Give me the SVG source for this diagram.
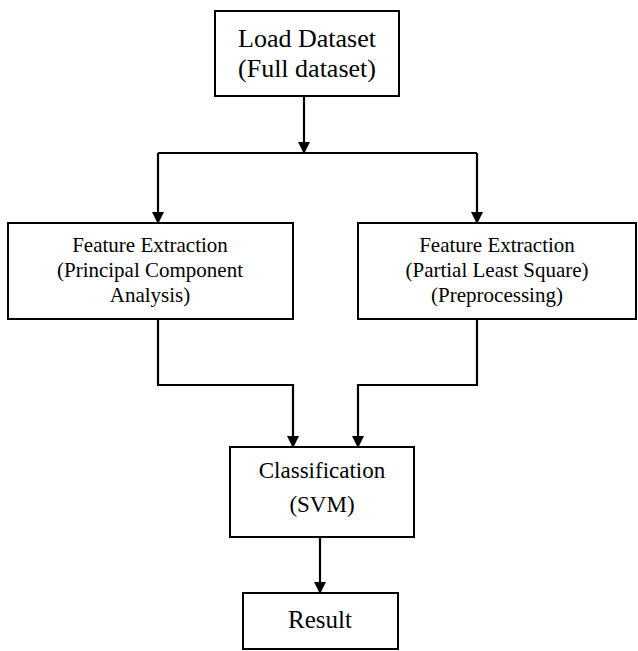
<svg xmlns="http://www.w3.org/2000/svg" width="638" height="651" viewBox="0 0 638 651">
<style>
.box{fill:#fff;stroke:#000;stroke-width:2}
.t{font-family:"Liberation Serif","Times New Roman",serif;fill:#000;text-anchor:middle}
.c{fill:none;stroke:#000;stroke-width:2.2}
</style>
<defs>
<marker id="ah" markerWidth="10" markerHeight="12" refX="10" refY="6" orient="auto" markerUnits="userSpaceOnUse">
<path d="M0,0 L12,6 L0,12 Z" fill="#000"/>
</marker>
</defs>
<rect width="638" height="651" fill="#fff"/>
<g id="connectors">
<path class="c" d="M304,96 V152" marker-end="url(#ah)"/>
<path class="c" d="M158,153 H477"/>
<path class="c" d="M158,153 V222" marker-end="url(#ah)"/>
<path class="c" d="M477,153 V222" marker-end="url(#ah)"/>
<path class="c" d="M158,319 V385 H293 V446" marker-end="url(#ah)"/>
<path class="c" d="M477,319 V385 H358 V446" marker-end="url(#ah)"/>
<path class="c" d="M320,537 V592" marker-end="url(#ah)"/>
</g>
<g id="load">
<rect class="box" x="215" y="11" width="184" height="85"/>
<text class="t" x="307" y="47" font-size="26">Load Dataset</text>
<text class="t" x="307" y="77" font-size="26">(Full dataset)</text>
</g>
<g id="pca">
<rect class="box" x="8" y="223" width="285" height="96"/>
<text class="t" x="150" y="252" font-size="21">Feature Extraction</text>
<text class="t" x="150" y="277" font-size="21">(Principal Component</text>
<text class="t" x="150" y="302" font-size="21">Analysis)</text>
</g>
<g id="pls">
<rect class="box" x="358" y="223" width="278" height="96"/>
<text class="t" x="497" y="252" font-size="21">Feature Extraction</text>
<text class="t" x="497" y="277" font-size="21">(Partial Least Square)</text>
<text class="t" x="497" y="302" font-size="21">(Preprocessing)</text>
</g>
<g id="svm">
<rect class="box" x="230" y="447" width="184" height="90"/>
<text class="t" x="322" y="478" font-size="23">Classification</text>
<text class="t" x="322" y="512" font-size="23">(SVM)</text>
</g>
<g id="result">
<rect class="box" x="243" y="593" width="155" height="56"/>
<text class="t" x="320" y="628" font-size="25">Result</text>
</g>
</svg>
